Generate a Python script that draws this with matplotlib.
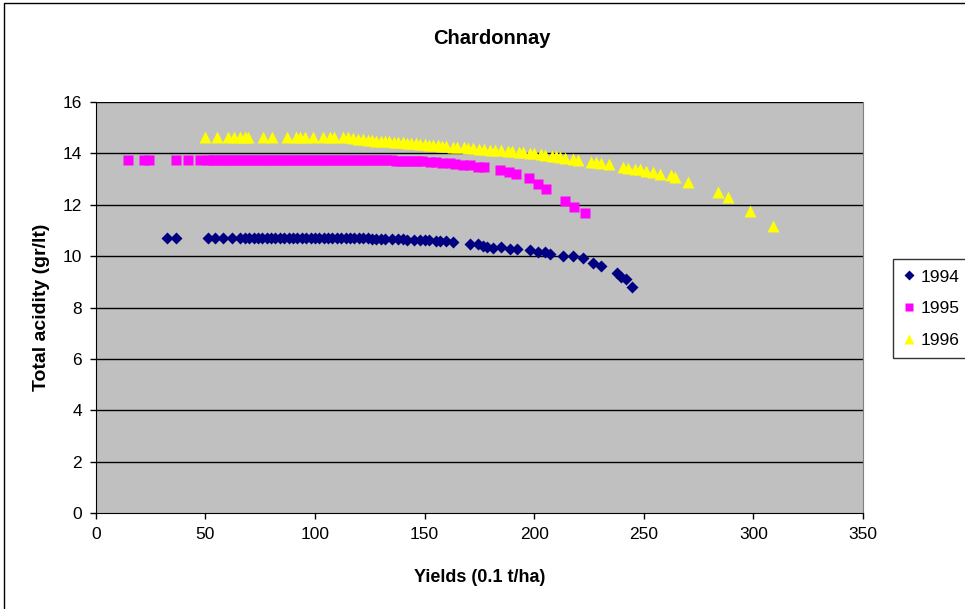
import matplotlib

matplotlib.use("Agg")
import matplotlib.pyplot as plt
from matplotlib.patches import Rectangle

plt.rcParams["font.family"] = ["Liberation Sans", "DejaVu Sans"]

# ---- data: yield (0.1 t/ha) vs total acidity (gr/lt) per vintage -------------
x_1994 = [32.4, 36.6, 51, 54.5, 58, 62, 66, 68, 70, 72, 74, 76, 78, 80, 82, 84,
          86, 88, 90, 92, 94, 96, 98, 100, 102, 104, 106, 108, 110, 112, 114,
          116, 118, 120, 122, 124, 126, 128, 130, 132, 135, 138, 140, 142, 145,
          148, 150, 152, 155, 157, 160, 163,
          170.6, 174.5, 176.8, 178.3, 181.3, 185.1, 188.9, 192, 198, 201.8,
          204.9, 207.2, 213.2, 217.8, 222.3, 226.9, 230.3, 237.6, 239.8, 241.8,
          244.7]
y_1994 = [10.72, 10.72, 10.72, 10.72, 10.72, 10.72, 10.72, 10.72, 10.72, 10.72,
          10.72, 10.72, 10.72, 10.72, 10.72, 10.72, 10.72, 10.72, 10.72, 10.72,
          10.71, 10.71, 10.71, 10.71, 10.71, 10.71, 10.71, 10.7, 10.7, 10.7,
          10.7, 10.7, 10.7, 10.7, 10.7, 10.7, 10.69, 10.69, 10.68, 10.68, 10.67,
          10.66, 10.66, 10.65, 10.64, 10.63, 10.63, 10.62, 10.6, 10.6, 10.58,
          10.55,
          10.48, 10.47, 10.41, 10.37, 10.31, 10.37, 10.28, 10.3, 10.24, 10.18,
          10.15, 10.09, 10.02, 9.99, 9.92, 9.75, 9.61, 9.34, 9.21, 9.10, 8.82]

x_1995 = [14.9, 22, 24.5, 36.5, 42.2, 47.6, 51, 53, 55, 57, 59, 61, 63, 65, 67,
          69, 71, 73, 75, 77, 79, 81, 83, 85, 87, 89, 91, 93, 95, 97, 99, 101,
          103, 105, 107, 109, 111, 113, 115, 117, 119, 121, 123, 125, 127, 129,
          131, 133, 135, 137, 139, 141, 143, 145, 147, 149,
          152.4, 155, 158, 161.6, 164, 167.5, 170.7, 174.4, 177, 184.4, 188.5,
          191.7, 197.6, 201.8, 205.6, 214, 218.1, 223.1]
y_1995 = [13.75, 13.75, 13.75, 13.75, 13.75, 13.75, 13.75, 13.75, 13.75, 13.75,
          13.75, 13.75, 13.75, 13.75, 13.75, 13.75, 13.75, 13.75, 13.75, 13.75,
          13.75, 13.75, 13.75, 13.75, 13.75, 13.75, 13.75, 13.75, 13.75, 13.75,
          13.75, 13.75, 13.75, 13.75, 13.75, 13.75, 13.75, 13.75, 13.75, 13.75,
          13.75, 13.75, 13.74, 13.74, 13.74, 13.74, 13.73, 13.73, 13.73, 13.72,
          13.72, 13.72, 13.71, 13.71, 13.7, 13.7,
          13.66, 13.65, 13.64, 13.62, 13.6, 13.55, 13.53, 13.46, 13.47, 13.36,
          13.27, 13.19, 13.03, 12.8, 12.6, 12.16, 11.9, 11.67]

x_1996 = [49.9, 55.2, 60.2, 63.2, 65.8, 68.1, 69.6, 76.2, 80.3, 87.1, 91.3, 93.2,
          95.4, 99.2, 103.8, 106.8, 108.8, 112.9, 115.2, 117.4, 119.7, 122,
          124, 126, 128, 130, 132, 134, 136, 138, 140, 142, 144, 146, 148, 150,
          152, 154, 156, 158, 160, 163, 165, 168, 170, 172, 175, 177, 180, 182,
          185, 188, 190, 193, 195, 198, 200, 203, 205, 208, 210, 212,
          214, 217.8, 220, 226.1, 228.4, 230.7, 234.2, 240.6, 242.9, 245.9,
          248.2, 251, 254.3, 257.6, 262.6, 264.2, 270.2, 283.9, 288.4, 298.4,
          309]
y_1996 = [14.62, 14.62, 14.62, 14.62, 14.62, 14.62, 14.62, 14.62, 14.62, 14.62,
          14.62, 14.62, 14.62, 14.62, 14.62, 14.62, 14.62, 14.62, 14.62, 14.6,
          14.58, 14.55,
          14.52, 14.52, 14.5, 14.5, 14.48, 14.47, 14.45, 14.44, 14.43, 14.42,
          14.4, 14.4, 14.38, 14.35, 14.34, 14.33, 14.32, 14.3, 14.28, 14.26,
          14.25, 14.24, 14.22, 14.2, 14.18, 14.17, 14.15, 14.13, 14.12, 14.1,
          14.08, 14.06, 14.04, 14.02, 14.0, 13.97, 13.94, 13.91, 13.88, 13.86,
          13.81, 13.78, 13.75, 13.68, 13.65, 13.64, 13.58, 13.49, 13.45, 13.4,
          13.4, 13.33, 13.27, 13.2, 13.15, 13.1, 12.9, 12.49, 12.32, 11.77,
          11.18]

years = ["1994", "1995", "1996"]
x_ticks = [0, 50, 100, 150, 200, 250, 300, 350]
y_ticks = [0, 2, 4, 6, 8, 10, 12, 14, 16]

# ---- figure -------------------------------------------------------------------
W, H = 965, 609
fig = plt.figure(figsize=(W / 100, H / 100), dpi=100, facecolor="white")
ax = fig.add_axes([95.7 / W, 1 - 513.3 / H, (863 - 95.7) / W, (513.3 - 102) / H])
ax.set_facecolor("#c0c0c0")

# outer chart frame, clipped by the canvas on the right and bottom
fig.patches.append(Rectangle((4 / W, -0.05), 1.2, 1 - 3 / H + 0.05,
                             transform=fig.transFigure, fill=False,
                             edgecolor="black", lw=1.0))

for v in y_ticks[1:]:
    ax.axhline(v, color="black", lw=1.0, zorder=1)

ax.plot(x_1994, y_1994, "D", ms=6.3, color="#000080", mec="none",
        label=years[0], zorder=3)
ax.plot(x_1995, y_1995, "s", ms=6.6, color="#ff00ff", mec="none",
        label=years[1], zorder=3)
ax.plot(x_1996, y_1996, "^", ms=8.2, color="#ffff00", mec="none",
        label=years[2], zorder=3)

ax.set_xlim(0, 350)
ax.set_ylim(0, 16)
ax.set_xticks(x_ticks, [str(t) for t in x_ticks])
ax.set_yticks(y_ticks, [str(t) for t in y_ticks])
ax.tick_params(direction="out", length=4, width=1, color="black",
               labelsize=12.5, pad=6)
ax.spines["left"].set_color("black")
ax.spines["bottom"].set_color("black")
ax.spines["top"].set_visible(False)
ax.spines["right"].set_color("#808080")

fig.text(0.51, 1 - 38 / H, "Chardonnay", ha="center", va="center",
         fontsize=14.5, fontweight="bold")
fig.text(479.5 / W, 1 - 577 / H, "Yields (0.1 t/ha)", ha="center",
         va="center", fontsize=13, fontweight="bold")
fig.text(42 / W, 1 - 307.5 / H, "Total acidity (gr/lt)", ha="center",
         va="center", rotation=90, fontsize=14, fontweight="bold")

leg = ax.legend(loc="upper left", bbox_to_anchor=(892.5 / W, 1 - 259 / H),
                bbox_transform=fig.transFigure, frameon=True, fancybox=False,
                edgecolor="black", fontsize=12.5, handlelength=0.7,
                handletextpad=0.3, labelspacing=0.95, borderpad=0.6,
                borderaxespad=0, markerscale=0.8)
leg.get_frame().set_linewidth(1.0)

fig.savefig("out.png", dpi=100, facecolor="white")
